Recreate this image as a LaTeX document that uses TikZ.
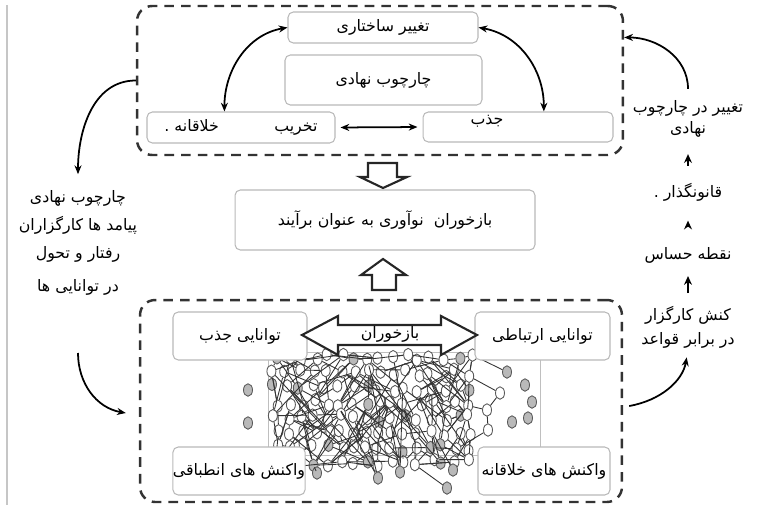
\documentclass[tikz,border=0pt]{standalone}
\usepackage{fontspec}
\newfontfamily\farsi[Script=Arabic]{DejaVu Sans}
\TeXXeTstate=1
\newcommand{\fatxt}[1]{{\farsi\beginR #1\endR}}
\usetikzlibrary{arrows.meta,shapes.geometric}

\tikzset{
  caja/.style={draw=gray!55, fill=white, rounded corners=3pt, line width=0.6pt, inner sep=0pt},
  zona/.style={draw=black!80, dash pattern=on 5.5pt off 4pt, line width=1.4pt, rounded corners=0.3cm, inner sep=0pt},
  flecha/.style={-{Stealth[length=5pt,width=4pt]}, line width=1pt},
  flechita/.style={-{Stealth[length=5pt,width=4.5pt]}, line width=1.5pt},
  dobleflecha/.style={{Stealth[length=5pt,width=4pt]}-{Stealth[length=5pt,width=4pt]}, line width=1pt},
  hueca/.style={draw=black!85, fill=white, line width=1.2pt, line join=miter},
  nodo/.style={ellipse, draw=black!65, fill=white, line width=0.5pt, minimum width=0.18cm, minimum height=0.25cm, inner sep=0pt},
  nodogris/.style={nodo, fill=gray!55},
  arista/.style={black!80, line width=0.5pt},
  texto/.style={align=center, inner sep=1pt},
  every node/.append style={font=\fontsize{9}{11}\selectfont},
}

\begin{document}
\begin{tikzpicture}[x=0.02cm, y=-0.02cm]

    \useasboundingbox (0,0) rectangle (759,507);

    % Borde
    \draw[gray!45, line width=0.8pt] (7,5) -- (7,505);

    % Zonas punteadas
    \node[zona, minimum width=9.72cm, minimum height=2.98cm] (arriba) at (380,80.5) {};
    \node[zona, minimum width=9.64cm, minimum height=4.04cm] (abajo) at (381,401) {};

    % Red de nodos
    \draw[gray!50, line width=0.4pt] (268,352) rectangle (540,455);
    \pgfmathsetseed{5}
    \foreach \i in {1,...,16}{
      \foreach \j in {1,...,8}{
        \pgfmathsetmacro\px{262+13*\i+rand*4}
        \pgfmathsetmacro\py{343+15*\j+rand*4}
        \pgfmathtruncatemacro\gris{rnd<0.14}
        \ifnum\gris=1 \def\estilo{nodogris}\else\def\estilo{nodo}\fi
        \node[\estilo] (n\i-\j) at (\px,\py) {};
      }
    }
    \foreach \p/\q/\s [count=\k] in {248/390/nodogris, 248/423/nodogris, 317/473/nodogris,
        447/488/nodogris, 378/478/nodogris, 400/472/nodogris, 453/470/nodogris,
        507/372/nodogris, 525/385/nodogris, 532/402/nodogris, 528/418/nodogris,
        512/422/nodogris, 500/393/nodo, 488/430/nodo, 487/410/nodo}
      \node[\s] (e\k) at (\p,\q) {};
    \foreach \r in {1,2}{
      \foreach \i in {1,...,16}{
        \foreach \j in {1,...,8}{
          \pgfmathtruncatemacro\a{max(1,min(16,\i+random(0,6)-3))}
          \pgfmathtruncatemacro\b{max(1,min(8,\j+random(0,6)-3))}
          \pgfmathtruncatemacro\igual{and(\a==\i,\b==\j)}
          \ifnum\igual=0 \draw[arista] (n\i-\j) -- (n\a-\b);\fi
        }
      }
    }
    \foreach \u/\v in {e5/n8-6, e6/n10-5, e7/n13-6, e4/n12-8, e3/n4-8, e13/e15,
        e15/e14, e13/n16-2, e14/n15-7, e15/n16-4, e8/n16-1, e5/n6-4, e6/n11-3}
      \draw[arista] (\u) -- (\v);

    % Cajas de arriba
    \node[caja, minimum width=3.8cm, minimum height=0.62cm] (tvs) at (383,27.5)
      {\fatxt{تغییر ساختاری}};
    \node[caja, minimum width=3.94cm, minimum height=1cm] (chn) at (383.5,80)
      {\fatxt{چارچوب نهادی}};
    \node[caja, minimum width=3.76cm, minimum height=0.62cm] (tkh) at (241,127.5)
      {\fatxt{تخریب\hspace{3.5em}خلاقانه .}};
    \node[caja, minimum width=3.8cm, minimum height=0.6cm] (jzb) at (518,127) {};
    \node[texto] (jzbtxt) at (487,121) {\fatxt{جذب}};

    % Flechas de arriba
    \draw[dobleflecha] (tkh.136) to[out=90, in=190] (tvs.west);
    \draw[dobleflecha] (tvs.east) to[out=-10, in=90] (jzb.31);
    \draw[dobleflecha, shorten <=0.1cm, shorten >=0.1cm] (tkh.east) -- (jzb.west);

    % Resultado central
    \node[caja, minimum width=6cm, minimum height=1.2cm] (brd) at (385,220)
      {\fatxt{بازخوران\ \ نوآوری به عنوان برآیند}};
    \draw[hueca] (368,163) -- (397,163) -- (397,177) -- (407,177) -- (383,188)
      -- (360,177) -- (368,177) -- cycle;
    \draw[hueca] (383,259) -- (406,275) -- (396,275) -- (396,290) -- (372,290)
      -- (372,275) -- (361,275) -- cycle;

    % Cajas de abajo
    \node[caja, minimum width=2.68cm, minimum height=0.96cm] (tjz) at (240,336)
      {\fatxt{توانایی جذب}};
    \node[caja, minimum width=2.7cm, minimum height=0.96cm] (tir) at (542.5,336)
      {\fatxt{توانایی ارتباطی}};
    \node[caja, minimum width=2.64cm, minimum height=0.96cm] (van) at (239,471)
      {\fatxt{واکنش های انطباقی}};
    \node[caja, minimum width=2.64cm, minimum height=0.96cm] (vkh) at (544,471)
      {\fatxt{واکنش های خلاقانه}};

    % Flecha doble hueca
    \draw[hueca] (302,335) -- (338,316) -- (338,325) -- (441,325) -- (441,316)
      -- (477,335) -- (441,355) -- (441,345) -- (338,345) -- (338,355) -- cycle;
    \node[texto] (bzk) at (390,334) {\fatxt{بازخوران}};

    % Texto de la izquierda
    \node[texto, font=\fontsize{9}{16}\selectfont] (izq) at (78,243)
      {\fatxt{چارچوب نهادی}\\ \fatxt{پیامد ها کارگزاران}\\
       \fatxt{رفتار و تحول}\\[3pt] \fatxt{در توانایی ها}};
    \coordinate (salida) at (78,353);
    \draw[flecha] (arriba.west) to[out=180, in=90] ([yshift=0.28cm]izq.north);
    \draw[flecha] (salida) to[out=-90, in=170] ([shift={(-13,12)}]abajo.west);

    % Texto de la derecha
    \node[texto, font=\fontsize{9}{11.5}\selectfont] (cambio) at (688,119)
      {\fatxt{تغییر در چارچوب}\\ \fatxt{نهادی}};
    \node[texto] (legis) at (688,192) {\fatxt{قانونگذار .}};
    \node[texto] (punto) at (688,255) {\fatxt{نقطه حساس}};
    \node[texto, font=\fontsize{9}{13.5}\selectfont] (accion) at (688,327)
      {\fatxt{کنش کارگزار}\\ \fatxt{در برابر قواعد}};
    \draw[flecha] ([yshift=0.2cm]cambio.north) to[out=90, in=0] (arriba.10);
    \draw[flechita, shorten <=0.3cm, shorten >=0.3cm] (legis.north) -- (cambio.south);
    \draw[flechita, shorten <=0.35cm, shorten >=0.35cm] (punto.north) -- (legis.south);
    \draw[flechita, shorten <=0.22cm, shorten >=0.22cm] (accion.north) -- (punto.south);
    \draw[flecha, shorten >=0.15cm] ([shift={(6,5)}]abajo.east) to[out=10, in=-100] (accion.south);

\end{tikzpicture}
\end{document}
